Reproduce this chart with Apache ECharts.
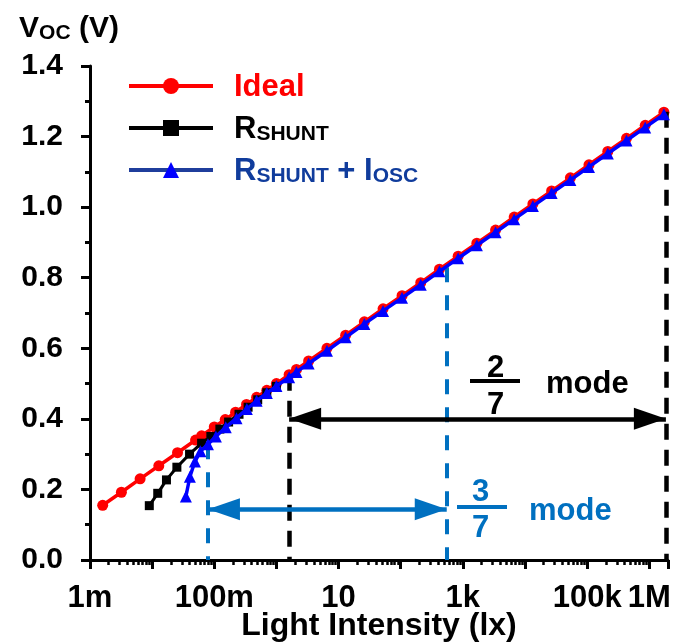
<!DOCTYPE html>
<html>
<head>
<meta charset="utf-8">
<script src="https://cdn.jsdelivr.net/npm/echarts@6/dist/echarts.min.js"></script>
<style>
  html, body { margin: 0; padding: 0; background: #fff; }
  #chart { width: 673px; height: 644px; }
</style>
</head>
<body>
<div id="chart"></div>
<script>
// Open-circuit voltage versus illuminance
const luxIdeal = [0.0016, 0.0032, 0.0064, 0.0128, 0.0256, 0.05, 0.0625, 0.1, 0.15, 0.22,
  0.33, 0.48, 0.7, 1.0, 1.6, 2.1, 3.3, 6.5, 13, 26, 52, 105, 210, 420, 840, 1680, 3360,
  6700, 13400, 26800, 53700, 107000, 215000, 430000, 860000, 1720000];
const vocIdeal = [0.155, 0.192, 0.230, 0.267, 0.304, 0.340, 0.352, 0.377, 0.398, 0.419,
  0.441, 0.461, 0.481, 0.500, 0.525, 0.540, 0.564, 0.600, 0.637, 0.675, 0.712, 0.749,
  0.786, 0.824, 0.861, 0.898, 0.935, 0.972, 1.009, 1.046, 1.083, 1.120, 1.158, 1.195,
  1.232, 1.269];

const luxShunt = [0.009, 0.0123, 0.017, 0.025, 0.04, 0.0625, 0.088, 0.123, 0.17, 0.25,
  0.35, 0.5, 0.7, 1.0];
const vocShunt = [0.154, 0.189, 0.227, 0.263, 0.300, 0.331, 0.350, 0.371, 0.391, 0.413,
  0.433, 0.454, 0.474, 0.492];

const luxShuntOsc = [0.0349, 0.0405, 0.0488, 0.0598, 0.079, 0.106, 0.153, 0.228, 0.334,
  0.48, 0.7, 1.0, 1.6, 2.1, 3.3, 6.5, 13, 26, 52, 105, 210, 420, 840, 1680, 3360, 6700,
  13400, 26800, 53700, 107000, 215000, 430000, 860000, 1720000];
const vocShuntOsc = [0.180, 0.236, 0.279, 0.308, 0.328, 0.350, 0.376, 0.402, 0.428,
  0.451, 0.473, 0.493, 0.518, 0.533, 0.557, 0.593, 0.631, 0.669, 0.706, 0.743, 0.780,
  0.818, 0.855, 0.892, 0.929, 0.966, 1.003, 1.040, 1.077, 1.114, 1.152, 1.189, 1.226,
  1.263];

// labelled decades on the illuminance axis
const tickValues = [0.001, 0.1, 10, 1000, 100000, 1000000];
const tickText = ['1m', '100m', '10', '1k', '100k', '1M'];

// operating ranges of the two modes (lux) and their marker levels (V)
const mode27Lux = [1.6, 1850000];
const mode27Top = [0.525, 1.27];
const mode27Arrow = 0.40;
const mode37Lux = [0.079, 550];
const mode37Top = [0.328, 0.83];
const mode37Arrow = 0.144;

const FONT = '"Liberation Sans", Arial, sans-serif';
const BLUE_ANN = '#0070c0';

function pairs(xs, ys) { return xs.map((x, i) => [x, ys[i]]); }

function tickLabel(v) {
  const lg = Math.log10(v);
  for (let i = 0; i < tickValues.length; i++) {
    if (Math.abs(Math.log10(tickValues[i]) - lg) < 1e-6) return tickText[i];
  }
  return '';
}

const chart = echarts.init(document.getElementById('chart'), null, { renderer: 'canvas' });

const dashBlack = { color: '#000', type: [16, 10], width: 4.5 };
const dashBlue = { color: BLUE_ANN, type: [15, 13], width: 4 };

const option = {
  animation: false,
  textStyle: { fontFamily: FONT },
  grid: { left: 90, right: 5, top: 66, bottom: 84, containLabel: false, outerBoundsMode: 'none' },
  legend: {
    orient: 'vertical',
    left: 127,
    top: 72,
    padding: 0,
    itemWidth: 84,
    itemHeight: 20,
    itemGap: 11,
    selectedMode: false,
    lineStyle: { width: 4 },
    data: [
      { name: 'Ideal', textStyle: { color: '#ff0000' } },
      { name: 'R_SHUNT', textStyle: { color: '#000000' } },
      { name: 'R_SHUNT + I_OSC', textStyle: { color: '#103c9c' },
        lineStyle: { color: '#1f3d9c', width: 4 } }
    ],
    formatter: function (name) {
      if (name === 'Ideal') return '{t|Ideal}';
      if (name === 'R_SHUNT') return '{t|R}{s|SHUNT}';
      return '{t|R}{s|SHUNT}{t| + I}{s|OSC}';
    },
    textStyle: {
      fontFamily: FONT,
      fontWeight: 'bold',
      rich: {
        t: { fontSize: 31, fontWeight: 'bold', fontFamily: FONT, lineHeight: 34, verticalAlign: 'bottom' },
        s: { fontSize: 21, fontWeight: 'bold', fontFamily: FONT, lineHeight: 19, verticalAlign: 'bottom' }
      },
      padding: [0, 0, 0, 16]
    }
  },
  xAxis: {
    type: 'log',
    logBase: 10,
    min: 0.001,
    max: 2000000,
    name: 'Light Intensity (lx)',
    nameLocation: 'middle',
    nameGap: 50,
    nameMoveOverlap: false,
    nameTextStyle: { fontSize: 32, fontWeight: 'bold', color: '#000', fontFamily: FONT },
    axisLine: { lineStyle: { color: '#000', width: 3 } },
    axisTick: { show: true, inside: false, length: 9, interval: 0, lineStyle: { color: '#000', width: 3 } },
    minorTick: { show: true, splitNumber: 9, length: 5, lineStyle: { color: '#000', width: 2.5 } },
    axisLabel: {
      interval: 0,
      margin: 23,
      fontSize: 31,
      fontWeight: 'bold',
      color: '#000',
      fontFamily: FONT,
      formatter: tickLabel
    },
    splitLine: { show: false },
    minorSplitLine: { show: false }
  },
  yAxis: {
    type: 'value',
    min: 0,
    max: 1.4,
    interval: 0.2,
    name: '{v|V}{s|OC}{v| (V)}',
    nameLocation: 'end',
    nameGap: 22,
    nameMoveOverlap: false,
    nameTextStyle: {
      align: 'center',
      padding: [0, 42, 0, 0],
      rich: {
        v: { fontSize: 30, fontWeight: 'bold', color: '#000', fontFamily: FONT, lineHeight: 32, verticalAlign: 'bottom' },
        s: { fontSize: 21, fontWeight: 'bold', color: '#000', fontFamily: FONT, lineHeight: 17, verticalAlign: 'bottom' }
      }
    },
    axisLine: { show: true, lineStyle: { color: '#000', width: 3 } },
    axisTick: { show: true, inside: false, length: 9, lineStyle: { color: '#000', width: 3 } },
    minorTick: { show: true, splitNumber: 2, length: 5, lineStyle: { color: '#000', width: 3 } },
    axisLabel: {
      margin: 27,
      fontSize: 30,
      fontWeight: 'bold',
      color: '#000',
      fontFamily: FONT,
      formatter: function (v) { return v.toFixed(1); }
    },
    splitLine: { show: false }
  },
  series: [
    {
      name: 'annotations',
      type: 'line',
      data: [],
      z: 1,
      markLine: {
        silent: true,
        animation: false,
        symbol: ['none', 'none'],
        label: { show: false },
        data: [
          // vertical bounds of the 2/7 mode
          [{ coord: [mode27Lux[0], mode27Top[0]], lineStyle: dashBlack }, { coord: [mode27Lux[0], 0] }],
          [{ coord: [mode27Lux[1], mode27Top[1]], lineStyle: dashBlack }, { coord: [mode27Lux[1], 0] }],
          // vertical bounds of the 3/7 mode
          [{ coord: [mode37Lux[0], mode37Top[0]], lineStyle: dashBlue }, { coord: [mode37Lux[0], 0] }],
          [{ coord: [mode37Lux[1], mode37Top[1]], lineStyle: dashBlue }, { coord: [mode37Lux[1], 0] }]
        ]
      }
    },
    {
      name: 'arrows',
      type: 'line',
      data: [],
      z: 1,
      markLine: {
        silent: true,
        animation: false,
        symbol: ['triangle', 'triangle'],
        symbolSize: [22, 32],
        symbolOffset: [[0, '50%'], [0, '50%']],
        label: { show: false },
        data: [
          [{ coord: [mode27Lux[0], mode27Arrow], lineStyle: { color: '#000', type: 'solid', width: 4.5 },
             itemStyle: { color: '#000' } },
           { coord: [mode27Lux[1], mode27Arrow] }],
          [{ coord: [mode37Lux[0], mode37Arrow], lineStyle: { color: BLUE_ANN, type: 'solid', width: 4.5 },
             itemStyle: { color: BLUE_ANN } },
           { coord: [mode37Lux[1], mode37Arrow] }]
        ]
      }
    },
    {
      name: 'Ideal',
      type: 'line',
      z: 3,
      data: pairs(luxIdeal, vocIdeal),
      symbol: 'circle',
      symbolSize: 11,
      lineStyle: { color: '#ff0000', width: 3.5 },
      itemStyle: { color: '#ff0000' }
    },
    {
      name: 'R_SHUNT',
      type: 'line',
      z: 4,
      data: pairs(luxShunt, vocShunt),
      symbol: 'rect',
      symbolSize: 9,
      lineStyle: { color: '#000000', width: 3 },
      itemStyle: { color: '#000000' }
    },
    {
      name: 'R_SHUNT + I_OSC',
      type: 'line',
      z: 5,
      data: pairs(luxShuntOsc, vocShuntOsc),
      symbol: 'triangle',
      symbolSize: 12,
      lineStyle: { color: '#0000ff', width: 3.5 },
      itemStyle: { color: '#0000ff' }
    }
  ],
  graphic: [
    // 2/7 mode label
    { type: 'text', left: 487, top: 353, style: { text: '2', font: 'bold 31px ' + FONT, fill: '#000' } },
    { type: 'line', shape: { x1: 470, y1: 381, x2: 520, y2: 381 }, style: { stroke: '#000', lineWidth: 4 } },
    { type: 'text', left: 487, top: 390, style: { text: '7', font: 'bold 31px ' + FONT, fill: '#000' } },
    { type: 'text', left: 546, top: 369, style: { text: 'mode', font: 'bold 31px ' + FONT, fill: '#000' } },
    // 3/7 mode label
    { type: 'text', left: 472, top: 477, style: { text: '3', font: 'bold 31px ' + FONT, fill: BLUE_ANN } },
    { type: 'line', shape: { x1: 457, y1: 507, x2: 507, y2: 507 }, style: { stroke: BLUE_ANN, lineWidth: 4 } },
    { type: 'text', left: 472, top: 513, style: { text: '7', font: 'bold 31px ' + FONT, fill: BLUE_ANN } },
    { type: 'text', left: 529, top: 496, style: { text: 'mode', font: 'bold 31px ' + FONT, fill: BLUE_ANN } }
  ]
};

chart.setOption(option);
</script>
</body>
</html>
